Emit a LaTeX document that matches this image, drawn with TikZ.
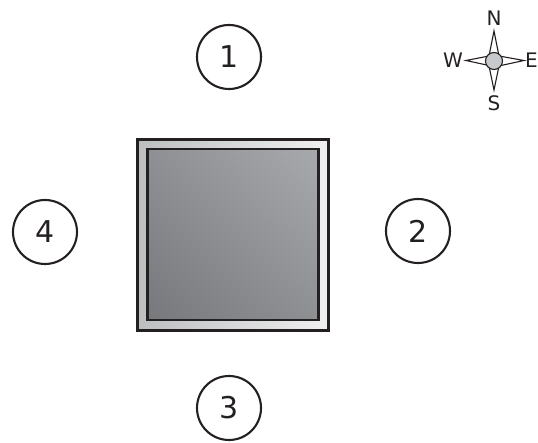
\documentclass[tikz,border=0pt]{standalone}
\usepackage{fontspec}
\setmainfont{DejaVu Sans}
\usetikzlibrary{positioning,shadings}
\definecolor{inkblack}{rgb}{0.14,0.12,0.13}
\definecolor{hubgray}{rgb}{0.78,0.79,0.80}
\definecolor{walldark}{HTML}{BCBEC0}
\definecolor{walllight}{HTML}{F0F0F0}
\definecolor{roomdark}{HTML}{77787B}
\definecolor{roommid}{HTML}{8F9093}
\definecolor{roomlight}{HTML}{A7A9AC}
\tikzset{
	sidecircle/.style={circle,draw=inkblack,line width=2.1pt,minimum size=64pt,inner sep=0pt,font=\fontsize{30}{30}\selectfont,text=inkblack},
	outerwall/.style={draw=inkblack,line width=2.6pt,left color=walldark,right color=walllight,minimum size=191pt,inner sep=0pt},
	innerroom/.style={draw=inkblack,line width=2.8pt,lower left=roomdark,upper right=roomlight,upper left=roommid,lower right=roommid,minimum size=171pt,inner sep=0pt},
	compasshub/.style={circle,draw=inkblack,line width=1.1pt,fill=hubgray,minimum size=17pt,inner sep=0pt},
	compassletter/.style={font=\fontsize{20}{20}\selectfont,text=inkblack,inner sep=0pt},
	spike/.style={draw=inkblack,line width=1.1pt,fill=white,line join=miter}
}
\begin{document}
\begin{tikzpicture}[x=1pt,y=-1pt]
\useasboundingbox (0,0) rectangle (538,443);
% building
\node[outerwall] (wall) at (232.8,234.8) {};
\node[innerroom] (room) at (233,234.5) {};
% sides
\node[sidecircle] (sideone) at (229,57) {1};
\node[sidecircle] (sidetwo) at (418,231) {2};
\node[sidecircle] (sidethree) at (229,408) {3};
\node[sidecircle] (sidefour) at (45,232) {4};
% compass
\coordinate (hubcentre) at (494,61);
\coordinate (tipn) at (494,31);
\coordinate (tips) at (494,90);
\coordinate (tipw) at (466,60.5);
\coordinate (tipe) at (524,60.5);
\draw[spike] (hubcentre) ++(-5,-5) -- (tipn) -- ++(5,25) -- cycle;
\draw[spike] (hubcentre) ++(-5,5) -- (tips) -- ++(5,-24) -- cycle;
\draw[spike] (hubcentre) ++(-5,-5) -- (tipw) -- ++(23,5) -- cycle;
\draw[spike] (hubcentre) ++(5,-5) -- (tipe) -- ++(-23,5) -- cycle;
\node[compasshub] (hub) at (hubcentre) {};
\node[compassletter,above=5pt of tipn] (north) {N};
\node[compassletter,below=5pt of tips] (south) {S};
\node[compassletter,left=3pt of tipw] (west) {W};
\node[compassletter,right=1pt of tipe] (east) {E};
\end{tikzpicture}
\end{document}
